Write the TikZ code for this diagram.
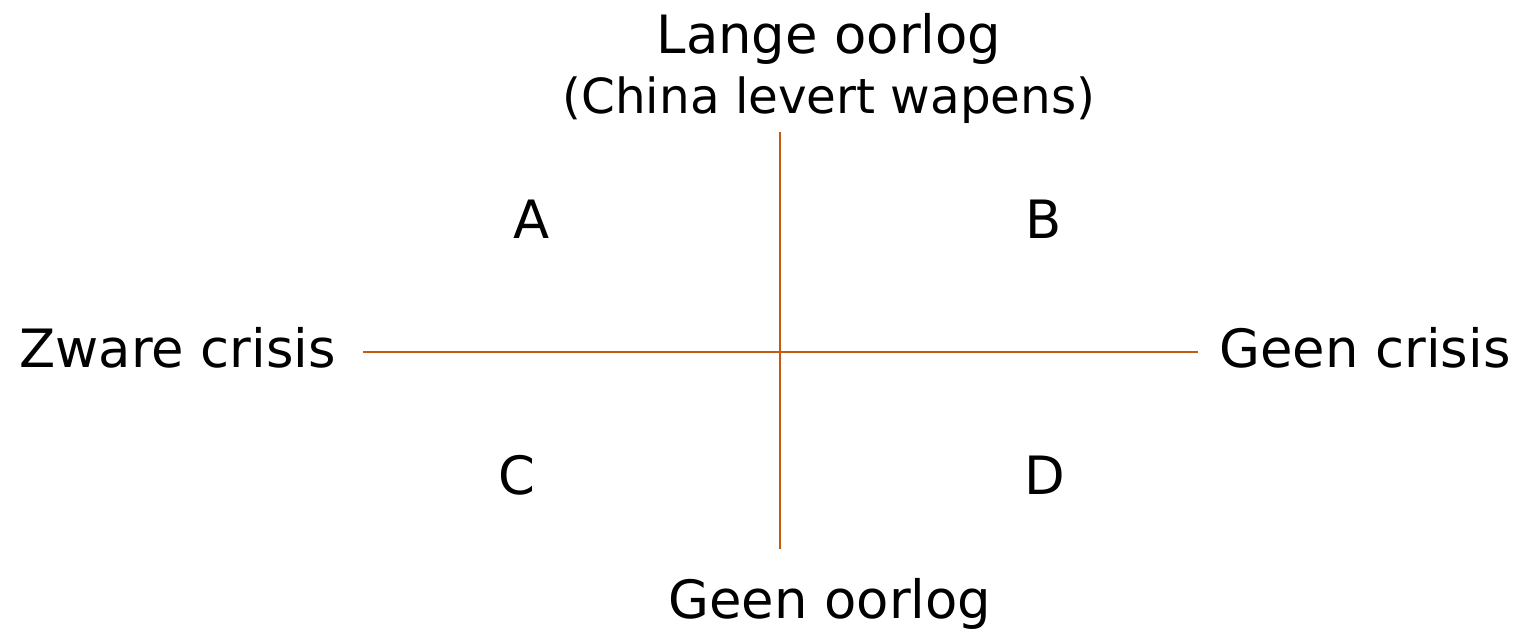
\documentclass[tikz,border=0pt]{standalone}
\usepackage{fontspec}
\setmainfont{DejaVu Sans}
\definecolor{axis}{HTML}{C55A11}
\begin{document}
\begin{tikzpicture}[x=0.5pt,y=-0.5pt,
  axisline/.style={draw=axis,line width=1.1pt},
  big/.style={font=\fontsize{26.4}{30}\selectfont,inner sep=0pt,anchor=base},
  small/.style={font=\fontsize{24.2}{28}\selectfont,inner sep=0pt,anchor=base}]
\useasboundingbox (0,0) rectangle (1516,629);
\coordinate (vt) at (780,132);
\coordinate (vb) at (780,549);
\coordinate (hl) at (363,352);
\coordinate (hr) at (1198,352);
\draw[axisline] (vt) -- (vb);
\draw[axisline] (hl) -- (hr);
\node[big] (top) at (829,53) {Lange oorlog};
\node[small] (topsub) at (829,113) {(China levert wapens)};
\node[big,anchor=base west] (left) at (19,367) {Zware crisis};
\node[big,anchor=base west] (right) at (1219,367) {Geen crisis};
\node[big] (bottom) at (830,618) {Geen oorlog};
\node[big] (A) at (532,238) {A};
\node[big] (B) at (1044,238) {B};
\node[big] (C) at (517,494) {C};
\node[big] (D) at (1045,494) {D};
\end{tikzpicture}
\end{document}
